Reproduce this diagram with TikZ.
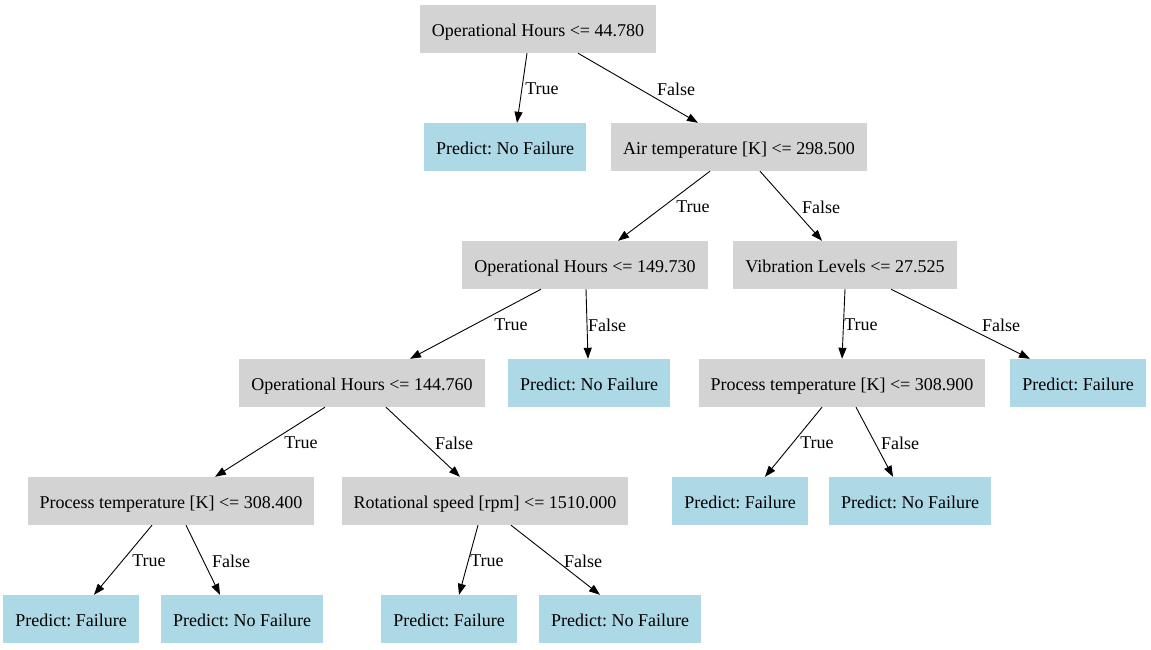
\documentclass[tikz,border=0pt]{standalone}
\usepackage{fontspec}
\setmainfont{Liberation Serif}
\usetikzlibrary{arrows.meta}
\definecolor{splitgray}{HTML}{D3D3D3}
\definecolor{leafblue}{HTML}{ADD8E6}
\frenchspacing
\tikzset{
  box/.style={rectangle, inner xsep=12pt, inner ysep=0pt, minimum height=48pt, text height=14pt, text depth=0pt, font=\fontsize{18}{20}\selectfont\frenchspacing},
  split/.style={box, fill=splitgray},
  leaf/.style={box, fill=leafblue},
  edge/.style={draw=black, line width=0.9pt, -{Triangle[length=11pt,width=8pt]}},
  elab/.style={font=\fontsize{18}{20}\selectfont, inner sep=0pt}
}
\begin{document}
\begin{tikzpicture}[x=1pt,y=-1pt]
\useasboundingbox (0,0) rectangle (1151,649);
\node[split] (r) at (538,29) {Operational Hours <= 44.780};
\node[leaf] (n1) at (505,147) {Predict: No Failure};
\node[split] (n2) at (739,147) {Air temperature [K] <= 298.500};
\node[split] (n3) at (585,265) {Operational Hours <= 149.730};
\node[split] (n4) at (845,265) {Vibration Levels <= 27.525};
\node[split] (n5) at (362,383) {Operational Hours <= 144.760};
\node[leaf] (n6) at (589,383) {Predict: No Failure};
\node[split] (n7) at (842,383) {Process temperature [K] <= 308.900};
\node[leaf] (n8) at (1078,383) {Predict: Failure};
\node[split] (n9) at (171,501) {Process temperature [K] <= 308.400};
\node[split] (n10) at (485,501) {Rotational speed [rpm] <= 1510.000};
\node[leaf] (n11) at (740,501) {Predict: Failure};
\node[leaf] (n12) at (910,501) {Predict: No Failure};
\node[leaf] (n13) at (71,619) {Predict: Failure};
\node[leaf] (n14) at (242,619) {Predict: No Failure};
\node[leaf] (n15) at (449,619) {Predict: Failure};
\node[leaf] (n16) at (620,619) {Predict: No Failure};

\draw[edge] ([xshift=-11pt]r.south) -- ([xshift=12pt]n1.north);
\draw[edge] ([xshift=40pt]r.south) -- ([xshift=-41pt]n2.north);
\draw[edge] ([xshift=-29pt]n2.south) -- ([xshift=33pt]n3.north);
\draw[edge] ([xshift=21pt]n2.south) -- ([xshift=-23pt]n4.north);
\draw[edge] ([xshift=-44pt]n3.south) -- ([xshift=48pt]n5.north);
\draw[edge] ([xshift=1pt]n3.south) -- ([xshift=-1pt]n6.north);
\draw[edge] (n4.south) -- (n7.north);
\draw[edge] ([xshift=46pt]n4.south) -- ([xshift=-48pt]n8.north);
\draw[edge] ([xshift=-37pt]n5.south) -- ([xshift=44pt]n9.north);
\draw[edge] ([xshift=24pt]n5.south) -- ([xshift=-25pt]n10.north);
\draw[edge] ([xshift=-20pt]n7.south) -- ([xshift=25pt]n11.north);
\draw[edge] ([xshift=14pt]n7.south) -- ([xshift=-17pt]n12.north);
\draw[edge] ([xshift=-19pt]n9.south) -- ([xshift=23pt]n13.north);
\draw[edge] ([xshift=15pt]n9.south) -- ([xshift=-22pt]n14.north);
\draw[edge] ([xshift=-7pt]n10.south) -- ([xshift=10pt]n15.north);
\draw[edge] ([xshift=26pt]n10.south) -- ([xshift=-20pt]n16.north);

\node[elab] (l1) at (542,89) {True};
\node[elab] (l2) at (676,89) {False};
\node[elab] (l3) at (693,207) {True};
\node[elab] (l4) at (821,207) {False};
\node[elab] (l5) at (511,325) {True};
\node[elab] (l6) at (607,325) {False};
\node[elab] (l7) at (861,325) {True};
\node[elab] (l8) at (1001,325) {False};
\node[elab] (l9) at (301,443) {True};
\node[elab] (l10) at (454,443) {False};
\node[elab] (l11) at (817,443) {True};
\node[elab] (l12) at (900,443) {False};
\node[elab] (l13) at (149,561) {True};
\node[elab] (l14) at (231,561) {False};
\node[elab] (l15) at (487,561) {True};
\node[elab] (l16) at (583,561) {False};
\end{tikzpicture}
\end{document}
